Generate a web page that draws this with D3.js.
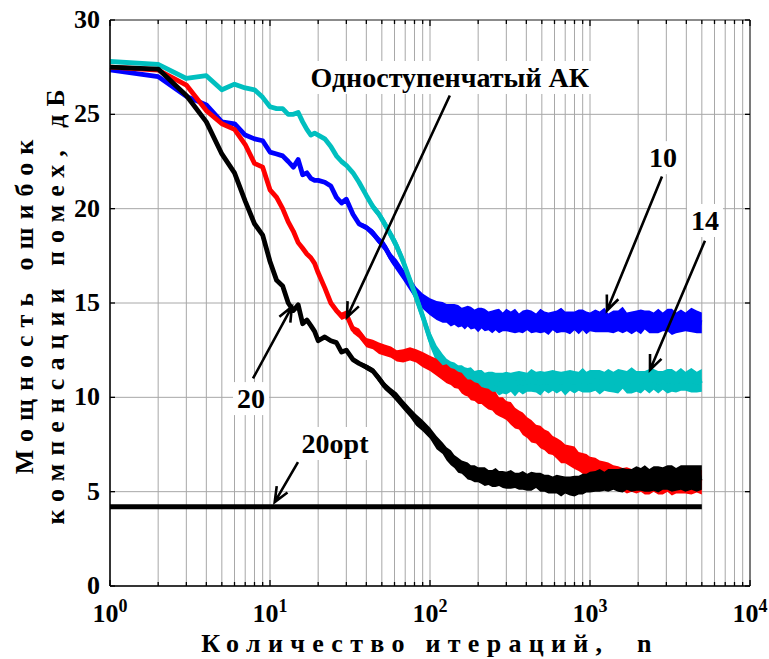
<!DOCTYPE html>
<html>
<head>
<meta charset="utf-8">
<script src="https://cdn.jsdelivr.net/npm/d3@7"></script>
<style>
  body { margin: 0; background: #fff; }
  svg { display: block; }
</style>
</head>
<body>
<div id="chart"></div>
<script>
// iterations at which curve values were read (shared by all series)
const nGrid = [
  1, 2, 3, 4, 5, 6, 7, 8, 9, 10, 11, 12, 13, 14, 15, 16, 17, 18, 19, 20,
  22, 24, 26, 28, 30, 33, 36, 40, 44, 48, 52, 57, 62, 68, 75, 82, 90,
  100, 110, 120, 127, 135, 142, 150, 158, 165, 172, 180, 190, 200, 210, 220, 232, 245, 257, 270, 285,
  300, 320, 340, 360, 380, 405, 430, 460, 490, 520, 550, 585, 620, 660, 700, 750, 800, 850, 900, 950, 1000,
  1080, 1150, 1230, 1300, 1400, 1500, 1600, 1700, 1820, 1950, 2080, 2200, 2350, 2500, 2670, 2850, 3050, 3250, 3450, 3700, 3950, 4300, 4650, 5000
]

// "10" (blue)
const blueVals = [
  27.35, 27.0, 25.95, 25.5, 24.6, 24.5, 23.9, 23.7, 23.6, 23.0, 22.9, 22.8, 22.5, 22.2, 22.6, 21.8, 21.9, 21.6, 21.5, 21.5,
  21.4, 21.2, 20.6, 20.3, 20.5, 19.7, 19.2, 19.0, 18.7, 18.3, 18.0, 17.4, 17.0, 16.5, 16.0, 15.5, 15.1,
  14.8, 14.6, 14.5, 14.45, 14.35, 14.4, 14.3, 14.25, 14.2, 14.3, 14.2, 14.15, 14.1, 14.2, 14.1, 14.05, 14.0, 14.1, 14.05, 14.0,
  14.1, 14.0, 14.05, 13.95, 14.0, 14.1, 14.0, 13.95, 14.05, 14.0, 13.9, 14.05, 14.0, 14.1, 14.0, 13.95, 14.05, 14.0, 14.1, 13.95, 14.0,
  14.05, 14.0, 14.1, 13.95, 14.0, 14.05, 14.1, 14.0, 13.95, 14.05, 14.0, 14.1, 14.0, 13.95, 14.05, 14.0, 14.1, 14.0, 13.95, 14.05, 14.0, 14.1, 14.0, 13.95
]
const blueSpread = [
  0, 0, 0, 0, 0, 0, 0, 0, 0, 0, 0, 0, 0, 0, 0, 0, 0, 0, 0, 0,
  0, 0, 0, 0, 0, 0.1, 0.1, 0.15, 0.2, 0.2, 0.25, 0.25, 0.3, 0.3, 0.35, 0.35, 0.4,
  0.45, 0.5, 0.55, 0.5, 0.6, 0.55, 0.6, 0.5, 0.6, 0.55, 0.6, 0.5, 0.65, 0.55, 0.6, 0.5, 0.6, 0.55, 0.65, 0.5,
  0.6, 0.55, 0.65, 0.5, 0.6, 0.55, 0.6, 0.5, 0.65, 0.55, 0.6, 0.5, 0.6, 0.65, 0.55, 0.6, 0.5, 0.65, 0.55, 0.6, 0.5,
  0.6, 0.55, 0.65, 0.5, 0.6, 0.55, 0.7, 0.5, 0.6, 0.55, 0.65, 0.5, 0.6, 0.55, 0.65, 0.5, 0.6, 0.7, 0.55, 0.6, 0.5, 0.65, 0.6, 0.55
]

// "14" (cyan)
const cyanVals = [
  27.8, 27.65, 26.9, 27.05, 26.3, 26.6, 26.4, 26.3, 25.9, 25.4, 25.3, 25.3, 25.0, 25.0, 25.1, 24.6, 24.2, 23.9, 24.0, 23.9,
  23.7, 23.3, 22.8, 22.5, 22.3, 21.9, 21.4, 20.7, 20.1, 19.7, 19.2, 18.6, 18.0, 17.2, 16.2, 15.3, 14.3,
  13.1, 12.3, 11.8, 11.6, 11.4, 11.3, 11.2, 11.1, 11.1, 11.0, 11.0, 10.9, 10.9, 10.85, 10.8, 10.8, 10.75, 10.8, 10.7, 10.75,
  10.75, 10.8, 10.7, 10.85, 10.75, 10.8, 10.9, 10.8, 10.75, 10.85, 10.8, 10.9, 10.8, 10.85, 10.75, 10.9, 10.8, 10.85, 10.9, 10.8, 10.85,
  10.9, 10.8, 10.85, 10.9, 10.8, 10.85, 10.95, 10.8, 10.9, 10.85, 10.8, 10.9, 10.85, 10.95, 10.8, 10.9, 10.85, 10.9, 10.8, 10.95, 10.85, 10.9, 10.8, 10.9
]
const cyanSpread = [
  0, 0, 0, 0, 0, 0, 0, 0, 0, 0, 0, 0, 0, 0, 0, 0, 0, 0, 0, 0,
  0, 0, 0, 0, 0.1, 0.1, 0.15, 0.15, 0.2, 0.2, 0.25, 0.25, 0.3, 0.3, 0.3, 0.35, 0.35,
  0.4, 0.45, 0.5, 0.45, 0.5, 0.55, 0.5, 0.6, 0.5, 0.55, 0.6, 0.5, 0.55, 0.6, 0.5, 0.55, 0.6, 0.5, 0.6, 0.55,
  0.6, 0.5, 0.65, 0.55, 0.6, 0.5, 0.6, 0.55, 0.65, 0.5, 0.6, 0.55, 0.6, 0.5, 0.65, 0.55, 0.6, 0.5, 0.65, 0.55, 0.6,
  0.55, 0.65, 0.5, 0.6, 0.55, 0.65, 0.5, 0.6, 0.7, 0.55, 0.6, 0.5, 0.65, 0.55, 0.6, 0.5, 0.65, 0.6, 0.55, 0.6, 0.5, 0.65, 0.55, 0.6
]

// "Одноступенчатый АК" (red)
const redVals = [
  27.5, 27.35, 26.55, 25.2, 24.5, 24.2, 23.4, 22.4, 22.2, 21.0, 20.6, 20.0, 19.3, 18.8, 18.2, 17.9, 17.6, 17.4, 17.1, 16.6,
  15.8, 15.0, 14.6, 14.3, 14.4, 13.6, 13.4, 12.9, 12.8, 12.6, 12.5, 12.4, 12.2, 12.2, 12.3, 12.2, 12.0,
  11.8, 11.6, 11.3, 11.25, 11.1, 11.0, 10.9, 10.75, 10.6, 10.5, 10.4, 10.3, 10.2, 10.1, 10.0, 9.9, 9.8, 9.7, 9.5, 9.45,
  9.3, 9.15, 8.9, 8.8, 8.6, 8.4, 8.2, 8.05, 7.9, 7.75, 7.6, 7.45, 7.3, 7.1, 7.0, 6.9, 6.8, 6.6, 6.5, 6.4, 6.3,
  6.2, 6.1, 6.0, 5.9, 5.8, 5.7, 5.65, 5.6, 5.6, 5.55, 5.6, 5.55, 5.5, 5.6, 5.55, 5.5, 5.6, 5.5, 5.55, 5.5, 5.6, 5.5, 5.55, 5.5
]
const redSpread = [
  0, 0, 0, 0, 0, 0, 0, 0, 0, 0, 0, 0, 0, 0, 0, 0, 0, 0, 0, 0,
  0.1, 0.15, 0.15, 0.2, 0.2, 0.2, 0.25, 0.25, 0.25, 0.3, 0.3, 0.3, 0.3, 0.35, 0.35, 0.35, 0.4,
  0.4, 0.45, 0.4, 0.5, 0.45, 0.5, 0.45, 0.55, 0.5, 0.45, 0.55, 0.5, 0.55, 0.45, 0.5, 0.55, 0.5, 0.6, 0.5, 0.55,
  0.5, 0.6, 0.55, 0.5, 0.6, 0.55, 0.6, 0.5, 0.6, 0.55, 0.6, 0.5, 0.55, 0.6, 0.5, 0.55, 0.6, 0.5, 0.55, 0.6, 0.55,
  0.6, 0.55, 0.6, 0.65, 0.6, 0.65, 0.6, 0.7, 0.6, 0.65, 0.6, 0.7, 0.65, 0.6, 0.7, 0.65, 0.6, 0.7, 0.65, 0.6, 0.7, 0.65, 0.6, 0.65
]

// "20" (black)
const blackVals = [
  27.5, 27.4, 26.0, 24.6, 22.9, 21.9, 20.4, 19.2, 18.6, 17.2, 16.2, 15.9, 15.0, 14.6, 14.9, 13.9, 14.1, 13.8, 13.5, 13.0,
  13.2, 13.0, 12.9, 12.4, 12.5, 12.0, 11.8, 11.6, 11.4, 11.0, 10.6, 10.3, 10.0, 9.6, 9.2, 8.8, 8.5,
  8.1, 7.6, 7.3, 7.0, 6.8, 6.6, 6.4, 6.3, 6.2, 6.1, 6.0, 5.95, 5.9, 5.85, 5.8, 5.75, 5.7, 5.75, 5.7, 5.65,
  5.6, 5.65, 5.6, 5.55, 5.6, 5.5, 5.55, 5.6, 5.5, 5.45, 5.4, 5.35, 5.4, 5.3, 5.35, 5.3, 5.3, 5.35, 5.4, 5.45, 5.5,
  5.55, 5.6, 5.55, 5.6, 5.65, 5.6, 5.6, 5.65, 5.6, 5.7, 5.65, 5.7, 5.6, 5.7, 5.65, 5.7, 5.75, 5.7, 5.65, 5.75, 5.7, 5.75, 5.7, 5.75
]
const blackSpread = [
  0, 0, 0, 0, 0, 0, 0, 0, 0, 0, 0, 0, 0, 0, 0, 0, 0, 0, 0, 0,
  0, 0, 0, 0, 0.05, 0.1, 0.1, 0.15, 0.15, 0.2, 0.2, 0.2, 0.25, 0.25, 0.25, 0.3, 0.3,
  0.3, 0.35, 0.3, 0.35, 0.4, 0.35, 0.4, 0.35, 0.4, 0.45, 0.4, 0.45, 0.4, 0.45, 0.5, 0.4, 0.45, 0.5, 0.4, 0.45,
  0.45, 0.5, 0.4, 0.45, 0.5, 0.45, 0.5, 0.4, 0.5, 0.45, 0.5, 0.45, 0.5, 0.55, 0.45, 0.5, 0.55, 0.5, 0.55, 0.5, 0.55,
  0.55, 0.6, 0.5, 0.6, 0.55, 0.6, 0.65, 0.55, 0.6, 0.65, 0.6, 0.7, 0.6, 0.65, 0.7, 0.6, 0.65, 0.7, 0.6, 0.65, 0.7, 0.65, 0.7, 0.65
]

// "20opt" – optimal level
const optN = [1, 5000]
const optVals = [4.2, 4.2]

const series = [
  { name: "10", color: "#0000ff", vals: blueVals, spread: blueSpread },
  { name: "14", color: "#00bfbf", vals: cyanVals, spread: cyanSpread },
  { name: "Одноступенчатый АК", color: "#ff0000", vals: redVals, spread: redSpread },
  { name: "20", color: "#000000", vals: blackVals, spread: blackSpread }
]

const yTicks = [0, 5, 10, 15, 20, 25, 30]
const xDecades = [0, 1, 2, 3, 4]

// labels and arrows in data coords: [n, dB]
const notes = [
  { text: "Одноступенчатый АК", at: [133, 26.45], from: [133, 26.0], to: [30.3, 14.25] },
  { text: "10", at: [2858, 22.2], from: [2818, 21.7], to: [1277, 14.6] },
  { text: "14", at: [5230, 18.87], from: [5230, 18.3], to: [2371, 11.45] },
  { text: "20", at: [7.61, 9.43], from: [7.83, 11.0], to: [13.7, 14.8] },
  { text: "20opt", at: [25.5, 7.05], from: [14.96, 6.57], to: [10.7, 4.45] }
]

const width = 769
const height = 659
const margin = { top: 20, right: 19, bottom: 73, left: 110 }
const serif = "'Liberation Serif', 'Times New Roman', Times, serif"

const svg = d3.select("#chart").append("svg")
  .attr("width", width)
  .attr("height", height)
  .attr("font-family", serif)
  .attr("font-weight", "bold")

const x = d3.scaleLog().domain([1, 10000]).range([margin.left, width - margin.right])
const y = d3.scaleLinear().domain([0, 30]).range([height - margin.bottom, margin.top])

const x0 = x.range()[0], x1 = x.range()[1]
const yb = y.range()[0], yt = y.range()[1]

// minor log positions
const minorN = []
xDecades.slice(0, -1).forEach(k => {
  for (let m = 1; m <= 9; m++) minorN.push(m * Math.pow(10, k))
})
minorN.push(10000)

// grid
const grid = svg.append("g").attr("stroke", "#a8a8a8").attr("stroke-width", 1)
minorN.forEach(n => {
  grid.append("line").attr("x1", x(n)).attr("x2", x(n)).attr("y1", yt).attr("y2", yb)
})
yTicks.forEach(v => {
  grid.append("line").attr("x1", x0).attr("x2", x1).attr("y1", y(v)).attr("y2", y(v))
})

// curves
const line = d3.line().x((d, i) => x(nGrid[i])).y(d => y(d))
const area = d3.area()
  .x(d => x(d.n))
  .y0(d => y(d.v - d.s))
  .y1(d => y(d.v + d.s))

series.forEach(s => {
  const pts = nGrid.map((n, i) => ({ n: n, v: s.vals[i], s: s.spread[i] }))
  svg.append("path")
    .datum(pts)
    .attr("fill", s.color)
    .attr("d", area)
  svg.append("path")
    .datum(s.vals)
    .attr("fill", "none")
    .attr("stroke", s.color)
    .attr("stroke-width", 4.8)
    .attr("stroke-linejoin", "round")
    .attr("d", line)
})

svg.append("path")
  .datum(optVals)
  .attr("fill", "none")
  .attr("stroke", "#000")
  .attr("stroke-width", 5)
  .attr("d", d3.line().x((d, i) => x(optN[i])).y(d => y(d)))

// box and ticks
svg.append("line").attr("x1", x0).attr("x2", x1).attr("y1", yt).attr("y2", yt)
  .attr("stroke", "#444").attr("stroke-width", 1)
svg.append("line").attr("x1", x1).attr("x2", x1).attr("y1", yt).attr("y2", yb)
  .attr("stroke", "#222").attr("stroke-width", 1)
svg.append("line").attr("x1", x0).attr("x2", x1).attr("y1", yb).attr("y2", yb)
  .attr("stroke", "#000").attr("stroke-width", 1.5)
svg.append("line").attr("x1", x0).attr("x2", x0).attr("y1", yt).attr("y2", yb)
  .attr("stroke", "#000").attr("stroke-width", 1.5)

const ticks = svg.append("g").attr("stroke", "#000").attr("stroke-width", 1.3)
minorN.forEach(n => {
  const len = Math.log10(n) % 1 === 0 ? 6 : 4
  ticks.append("line").attr("x1", x(n)).attr("x2", x(n)).attr("y1", yb).attr("y2", yb - len)
  ticks.append("line").attr("x1", x(n)).attr("x2", x(n)).attr("y1", yt).attr("y2", yt + len)
})
yTicks.forEach(v => {
  ticks.append("line").attr("x1", x0).attr("x2", x0 + 5).attr("y1", y(v)).attr("y2", y(v))
  ticks.append("line").attr("x1", x1).attr("x2", x1 - 5).attr("y1", y(v)).attr("y2", y(v))
})

// tick labels
svg.append("g").selectAll("text")
  .data(yTicks)
  .join("text")
  .attr("x", x0 - 10)
  .attr("y", d => y(d) + 8)
  .attr("text-anchor", "end")
  .attr("font-size", 26)
  .text(d => d)

const xl = svg.append("g").selectAll("text")
  .data(xDecades)
  .join("text")
  .attr("x", d => x(Math.pow(10, d)))
  .attr("y", 622)
  .attr("text-anchor", "middle")
  .attr("font-size", 26)
xl.append("tspan").text("10")
xl.append("tspan").attr("dy", -10).attr("font-size", 18).text(d => d)

// axis titles
svg.append("text")
  .attr("transform", `translate(33,${(yt + yb) / 2}) rotate(-90)`)
  .attr("text-anchor", "middle")
  .attr("font-size", 26)
  .attr("letter-spacing", 8)
  .text("Мощность ошибок")
svg.append("text")
  .attr("transform", `translate(64,${(yt + yb) / 2}) rotate(-90)`)
  .attr("text-anchor", "middle")
  .attr("font-size", 26)
  .attr("letter-spacing", 8)
  .text("компенсации помех, дБ")
svg.append("text")
  .attr("x", (x0 + x1) / 2)
  .attr("y", 652)
  .attr("text-anchor", "middle")
  .attr("font-size", 26)
  .attr("letter-spacing", 7.3)
  .style("white-space", "pre")
  .text("Количество итераций,  n")

// annotations
function arrow(g, from, to) {
  const ax = x(from[0]), ay = y(from[1])
  const bx = x(to[0]), by = y(to[1])
  const ang = Math.atan2(by - ay, bx - ax)
  const hl = 16, ha = 0.4
  const p1 = [bx - hl * Math.cos(ang - ha), by - hl * Math.sin(ang - ha)]
  const p2 = [bx - hl * Math.cos(ang + ha), by - hl * Math.sin(ang + ha)]
  g.append("path")
    .attr("d", `M${ax},${ay}L${bx},${by}M${p1[0]},${p1[1]}L${bx},${by}L${p2[0]},${p2[1]}`)
    .attr("fill", "none")
    .attr("stroke", "#000")
    .attr("stroke-width", 2.6)
}

const ann = svg.append("g")
notes.forEach(d => {
  arrow(ann, d.from, d.to)
  const box = ann.append("rect").attr("fill", "#fff")
  const t = ann.append("text")
    .attr("x", x(d.at[0]))
    .attr("y", y(d.at[1]))
    .attr("text-anchor", "middle")
    .attr("font-size", 28)
    .text(d.text)
  const bb = t.node().getBBox()
  box.attr("x", bb.x - 4).attr("y", bb.y - 1).attr("width", bb.width + 8).attr("height", bb.height + 2)
})
</script>
</body>
</html>
